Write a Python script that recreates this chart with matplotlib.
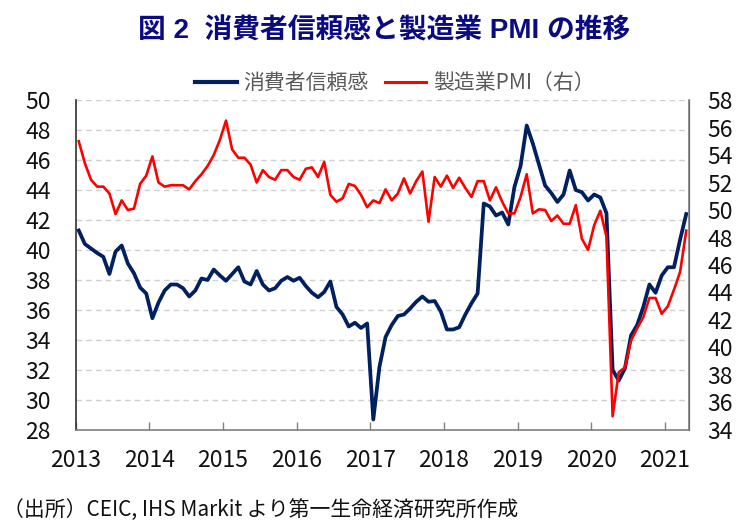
import matplotlib
matplotlib.use("Agg")
import matplotlib.pyplot as plt
from matplotlib.lines import Line2D
import numpy as np

# ---- data (monthly, Jan 2013 - Apr 2021) ----
consumer_confidence = [
    41.3, 40.4, 40.1, 39.8, 39.55, 38.4, 39.9, 40.3, 39.1, 38.45, 37.5, 37.1,
    35.45, 36.5, 37.3, 37.7, 37.7, 37.45, 36.9, 37.3, 38.1, 38.0, 38.7, 38.3,
    37.95, 38.4, 38.85, 37.9, 37.7, 38.6, 37.7, 37.3, 37.45, 37.95, 38.2, 37.95,
    38.15, 37.6, 37.15, 36.85, 37.2, 37.9, 36.2, 35.7, 34.9, 35.15, 34.8, 35.1,
    28.7, 32.2, 34.2, 35.0, 35.6, 35.7, 36.1, 36.55, 36.9, 36.55, 36.6, 35.9,
    34.7, 34.7, 34.85, 35.7, 36.45, 37.1, 43.1, 42.9, 42.3, 42.5, 41.7, 44.2,
    45.6, 48.3, 47.1, 45.7, 44.3, 43.8, 43.2, 43.7, 45.3, 44.0, 43.85, 43.3,
    43.7, 43.5, 42.45, 32.0, 31.3, 32.1, 34.3, 35.0, 36.2, 37.7, 37.15, 38.3,
    38.85, 38.85, 40.7, 42.4,
]
manufacturing_pmi = [
    55.0, 53.4, 52.2, 51.7, 51.7, 51.2, 49.7, 50.7, 50.0, 50.1, 51.9, 52.5,
    53.9, 52.0, 51.7, 51.8, 51.8, 51.8, 51.5, 52.1, 52.6, 53.2, 54.0, 55.1,
    56.5, 54.4, 53.8, 53.8, 53.3, 52.0, 52.9, 52.4, 52.2, 52.9, 52.9, 52.4,
    52.2, 53.0, 53.1, 52.4, 53.5, 51.1, 50.6, 50.85, 51.9, 51.75, 51.1, 50.2,
    50.7, 50.5, 51.5, 50.7, 51.2, 52.3, 51.2, 52.1, 52.8, 49.15, 52.4, 51.7,
    52.5, 51.6, 52.35, 51.6, 50.95, 52.1, 52.1, 50.7, 51.65, 50.6, 49.75, 49.75,
    50.95, 52.6, 49.75, 50.05, 50.0, 49.2, 49.6, 49.0, 49.0, 50.35, 47.9, 47.1,
    48.9, 49.95, 48.05, 35.0, 38.2, 38.55, 40.5, 41.4, 42.2, 43.6, 43.6, 42.45,
    43.0, 44.2, 45.5, 48.5,
]
year_labels = ["2013", "2014", "2015", "2016", "2017", "2018", "2019", "2020", "2021"]
left_ticks = list(range(28, 51, 2))
right_ticks = list(range(34, 59, 2))

series_names = ["消費者信頼感", "製造業PMI（右）"]
title_text = "図 2  消費者信頼感と製造業 PMI の推移"
source_text = "（出所）CEIC, IHS Markit より第一生命経済研究所作成"

NARROW = ["Liberation Sans Narrow", "Noto Sans CJK JP", "DejaVu Sans"]
CJK = ["Noto Sans CJK JP", "DejaVu Sans"]
plt.rcParams["font.family"] = CJK

BLUE = "#002060"
RED = "#FF0000"

fig = plt.figure(figsize=(7.56, 5.30), dpi=100)
ax = fig.add_axes([0.1001, 0.1887, 0.8117, 0.6226])
ax2 = ax.twinx()

x = np.arange(len(consumer_confidence))
ax.plot(x, consumer_confidence, color=BLUE, lw=2.7, solid_joinstyle="round", zorder=3)
ax2.plot(x, manufacturing_pmi, color=RED, lw=1.9, solid_joinstyle="round", zorder=3)

ax.set_xlim(-0.5, len(x) - 0.5)
ax.set_ylim(28, 50)
ax2.set_ylim(34, 58)
ax.set_yticks(left_ticks)
ax2.set_yticks(right_ticks)
ax.set_xticks([-0.5 + 12 * k for k in range(len(year_labels))])
ax.set_xticklabels(year_labels)

ax.yaxis.grid(True, color="#D0D0D0", linestyle=(0, (4, 3)), lw=1.0)
ax.set_axisbelow(True)

for a in (ax, ax2):
    a.spines["top"].set_visible(False)
ax.spines["left"].set_color("#303030")
ax.spines["bottom"].set_color("#808080")
ax2.spines["right"].set_color("#808080")
ax2.spines["left"].set_visible(False)
ax2.spines["bottom"].set_visible(False)
for s in ("left", "bottom"):
    ax.spines[s].set_linewidth(1.2)
ax2.spines["right"].set_linewidth(1.2)

ax.tick_params(axis="y", length=0, pad=18, labelsize=16.5, labelcolor="#111111")
ax2.tick_params(axis="y", length=0, pad=13, labelsize=16.5, labelcolor="#111111")
ax.tick_params(axis="x", direction="in", length=6, color="#808080", width=1.0,
               pad=14, labelsize=16.5, labelcolor="#111111")
for lab in ax.get_yticklabels() + ax.get_xticklabels() + ax2.get_yticklabels():
    lab.set_family(NARROW)

fig.text(0.508, 0.940, title_text, ha="center", va="center", fontsize=20,
         fontweight="bold", color="#0A0A82", family=["Liberation Sans", "Noto Sans CJK JP"])

handles = [Line2D([], [], color=BLUE, lw=3.0), Line2D([], [], color=RED, lw=2.2)]
leg = fig.legend(handles, series_names, loc="center", bbox_to_anchor=(0.522, 0.843),
                 ncol=2, frameon=False, handlelength=2.0, handletextpad=0.3,
                 columnspacing=0.8, prop={"family": NARROW, "size": 15})
for t in leg.get_texts():
    t.set_color("#595959")

fig.text(0.004, 0.038, source_text, ha="left", va="center", fontsize=15,
         color="#111111", family=NARROW)

fig.savefig("out.png", dpi=100)
